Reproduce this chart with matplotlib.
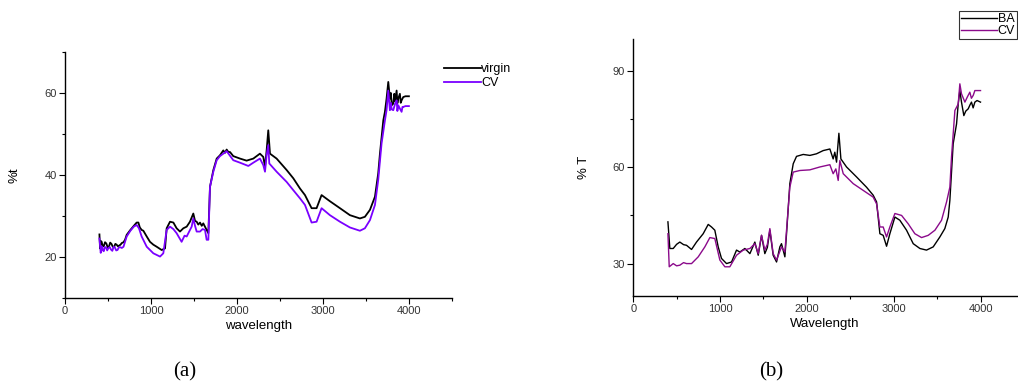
import numpy as np
import matplotlib.pyplot as plt
from matplotlib.ticker import MultipleLocator

plt.rcParams['font.family'] = ['Liberation Sans', 'DejaVu Sans']

# ---- panel (a) data ----
a_virgin_x = [400, 407, 416, 426, 438, 450, 465, 480, 495, 510, 525, 540, 555, 570, 585, 600,
              615, 630, 645, 660, 680, 698, 717, 760, 800, 833,
              853, 870, 891, 911, 950, 988, 1027, 1066, 1124, 1163, 1182, 1221, 1260, 1298,
              1337, 1376, 1415, 1453, 1492, 1512, 1531, 1550, 1570, 1590, 1608, 1647, 1667,
              1686, 1725, 1764, 1802, 1841, 1860, 1880, 1900, 1919, 1957, 2035, 2112, 2190,
              2267, 2306, 2326, 2345, 2364, 2384, 2461, 2578, 2655, 2733, 2791, 2868, 2926,
              2984, 3081, 3198, 3314, 3430, 3488, 3547, 3605, 3643, 3663, 3702, 3721, 3740,
              3760, 3779, 3790, 3800, 3818, 3830, 3840, 3857, 3866, 3876, 3895, 3905, 3915,
              3934, 3960, 4000]
a_virgin_y = [25.5, 22.1, 23.9, 23.7, 22.6, 22.6, 23.6, 23.3, 22.4, 22.5, 23.5, 23.2, 22.5,
              22.4, 23.2, 23.0, 22.6, 22.8, 23.0, 23.4, 23.6, 24.2, 25.4, 26.6,
              27.6, 28.4, 28.4, 27.2, 26.6, 26.4, 25.0, 23.7, 23.0, 22.5, 21.7, 22.1, 27.0,
              28.6, 28.4, 27.0, 26.2, 27.0, 27.4, 28.6, 30.6, 28.8, 28.6, 27.9, 28.4, 27.6,
              28.2, 26.6, 25.8, 37.1, 41.2, 44.0, 44.8, 46.0, 45.4, 46.2, 45.6, 45.6, 44.6,
              44.0, 43.5, 44.0, 45.2, 44.4, 42.0, 46.0, 50.9, 45.2, 44.0, 41.2, 39.2, 36.7,
              35.1, 31.9, 31.9, 35.1, 33.6, 31.9, 30.2, 29.4, 29.8, 31.5, 34.7, 40.4, 45.2,
              53.3, 55.4, 58.6, 62.7, 58.6, 60.0, 57.0, 57.4, 59.8, 58.0, 60.6, 57.5, 58.6,
              59.8, 57.6, 58.2, 59.0, 59.2, 59.2]

a_cv_x = [400, 415, 426, 438, 450, 460, 475, 490, 505, 520, 535, 550, 565, 580, 595, 610, 625,
          640, 660, 680, 717, 760, 800, 833, 860, 891,
          950, 1027, 1105, 1143, 1182, 1221, 1260, 1298, 1356, 1390, 1415, 1473, 1492, 1512,
          1531, 1570, 1600, 1628, 1647, 1667, 1686, 1725, 1764, 1802, 1841, 1880, 1957, 2035,
          2132, 2190, 2267, 2306, 2326, 2345, 2364, 2376, 2461, 2578, 2655, 2733, 2791, 2868,
          2926, 2984, 3081, 3198, 3314, 3430, 3488, 3547, 3605, 3643, 3682, 3721, 3740, 3760,
          3779, 3790, 3800, 3818, 3840, 3857, 3866, 3876, 3895, 3915, 3925, 3934, 3960, 4000]
a_cv_y = [24.5, 21.0, 22.6, 21.7, 21.4, 22.3, 22.4, 21.6, 22.2, 22.4, 21.8, 21.5, 22.5, 22.3,
          21.6, 21.7, 22.3, 22.4, 22.2, 22.5, 25.0, 26.4, 27.4,
          27.8, 27.0, 25.0, 22.5, 20.9, 20.1, 20.9, 26.6, 27.4, 26.8, 25.8, 23.7, 25.2, 25.0,
          27.4, 29.4, 27.6, 26.2, 26.2, 26.8, 26.6, 24.2, 24.2, 37.1, 40.8, 43.6, 44.6, 45.2,
          45.8, 43.6, 43.0, 42.2, 43.0, 44.0, 42.4, 40.8, 44.8, 47.3, 42.8, 40.8, 38.3, 36.3,
          34.3, 32.7, 28.4, 28.6, 31.9, 30.2, 28.6, 27.2, 26.4, 27.0, 29.0, 32.7, 38.8, 47.7,
          53.3, 55.8, 60.6, 55.8, 57.6, 56.0, 55.8, 57.4, 58.2, 55.6, 57.0, 56.2, 55.4, 56.6,
          56.6, 56.8, 56.8]

# ---- panel (b) data ----
b_ba_x = [400, 422, 461, 500, 537, 580, 614, 672, 729, 806, 864, 902, 940, 979, 1017, 1075,
          1133, 1190, 1228, 1286, 1344, 1401, 1440, 1478, 1516, 1545, 1574, 1612, 1651, 1689,
          1708, 1747, 1766, 1804, 1843, 1881, 1958, 2035, 2111, 2188, 2265, 2303, 2322, 2342,
          2369, 2392, 2457, 2572, 2687, 2764, 2803, 2841, 2879, 2918, 2956, 3014, 3071, 3148,
          3225, 3302, 3378, 3455, 3532, 3589, 3628, 3647, 3685, 3724, 3743, 3762, 3781, 3808,
          3830, 3858, 3880, 3896, 3915, 3935, 3960, 4000]
b_ba_y = [43.0, 34.7, 34.7, 36.0, 36.7, 35.9, 35.7, 34.4, 36.7, 39.3, 42.2, 41.4, 40.4, 35.2,
          31.6, 30.0, 30.5, 34.2, 33.6, 34.7, 33.1, 36.7, 32.6, 38.8, 33.1, 35.0, 40.4, 32.6,
          30.5, 35.2, 36.2, 32.1, 39.3, 54.9, 61.1, 63.4, 64.0, 63.7, 64.2, 65.2, 65.7, 62.6,
          64.7, 61.6, 70.6, 62.6, 60.1, 57.0, 53.8, 51.3, 49.2, 39.3, 38.8, 35.4, 39.3, 44.5,
          43.5, 40.4, 36.2, 34.7, 34.2, 35.2, 38.3, 40.9, 44.5, 49.7, 67.3, 73.5, 79.7, 83.9,
          80.3, 76.1, 77.5, 78.2, 79.5, 80.3, 78.5, 80.3, 80.8, 80.3]

b_cv_x = [400, 415, 461, 500, 537, 580, 614, 672, 749, 825, 883, 940, 998, 1056, 1113, 1190,
          1267, 1344, 1401, 1440, 1478, 1516, 1545, 1574, 1612, 1651, 1708, 1747, 1766, 1804,
          1843, 1920, 2035, 2150, 2265, 2303, 2334, 2361, 2380, 2419, 2534, 2649, 2764, 2803,
          2841, 2879, 2918, 2956, 3014, 3091, 3167, 3244, 3321, 3398, 3475, 3551, 3609, 3647,
          3666, 3705, 3743, 3762, 3781, 3820, 3850, 3877, 3895, 3916, 3935, 3954, 4000]
b_cv_y = [39.3, 29.0, 30.0, 29.3, 29.5, 30.3, 30.0, 30.0, 32.1, 35.2, 38.1, 37.8, 31.1, 29.0,
          29.0, 32.6, 34.2, 34.7, 36.2, 33.1, 38.8, 34.2, 36.0, 40.9, 33.1, 31.1, 35.2, 33.6,
          40.4, 53.8, 58.5, 59.0, 59.2, 60.1, 60.8, 58.0, 59.5, 55.9, 62.1, 58.0, 54.9, 52.8,
          50.7, 48.6, 41.4, 41.4, 38.3, 41.4, 45.6, 45.0, 42.4, 39.3, 38.1, 38.8, 40.4, 43.5,
          49.2, 53.8, 63.2, 77.7, 79.7, 86.0, 82.9, 80.3, 82.0, 83.4, 81.5, 82.4, 83.9, 83.9,
          83.9]

fig = plt.figure(figsize=(10.18, 3.85), dpi=100)

ax1 = fig.add_axes([0.0639, 0.226, 0.380, 0.639])
ax2 = fig.add_axes([0.622, 0.232, 0.377, 0.667])

ax1.plot(a_virgin_x, a_virgin_y, color='black', lw=1.3, label='virgin')
ax1.plot(a_cv_x, a_cv_y, color='#7a00ff', lw=1.3, label='CV')
ax1.set_xlim(0, 4500)
ax1.set_ylim(10, 70)
ax1.yaxis.set_major_locator(MultipleLocator(20))
ax1.yaxis.set_minor_locator(MultipleLocator(10))
ax1.set_xlabel('wavelength', fontsize=9.5, labelpad=3)
ax1.set_ylabel('%t', fontsize=9.5, labelpad=17)

ax2.plot(b_ba_x, b_ba_y, color='black', lw=1.0, label='BA')
ax2.plot(b_cv_x, b_cv_y, color='#8b0a8b', lw=1.0, label='CV')
ax2.set_xlim(0, 4420)
ax2.set_ylim(20, 100)
ax2.yaxis.set_major_locator(MultipleLocator(30))
ax2.yaxis.set_minor_locator(MultipleLocator(15))
ax2.set_xlabel('Wavelength', fontsize=9.5, labelpad=3)
ax2.set_ylabel('% T', fontsize=9.5, labelpad=16)

for ax in (ax1, ax2):
    ax.xaxis.set_major_locator(MultipleLocator(1000))
    ax.xaxis.set_minor_locator(MultipleLocator(500))
    for s in ('top', 'right'):
        ax.spines[s].set_visible(False)
    ax.spines['left'].set_linewidth(1.0)
    ax.spines['bottom'].set_linewidth(1.0)
    ax.tick_params(which='major', direction='out', length=4, width=0.8, labelsize=8, pad=2,
                   labelcolor='#333333')
    ax.tick_params(which='minor', direction='out', length=2, width=0.8)

h, l = ax1.get_legend_handles_labels()
fig.legend(h, l, loc='upper left', bbox_to_anchor=(438 / 1018, 1 - 57 / 385),
           frameon=False, fontsize=9, handlelength=2.9, handletextpad=0.05,
           borderpad=0, labelspacing=0.15)

h, l = ax2.get_legend_handles_labels()
leg = fig.legend(h, l, loc='upper right', bbox_to_anchor=(1017 / 1018, 1 - 11 / 385),
                 frameon=True, fancybox=False, fontsize=9, handlelength=2.9,
                 handletextpad=0.05, borderpad=0.15, labelspacing=0.05, borderaxespad=0)
leg.get_frame().set_edgecolor('black')
leg.get_frame().set_linewidth(0.8)

fig.text(185 / 1018, 1 - 372 / 385, '(a)', ha='center', va='center',
         family='Liberation Serif', fontsize=15)
fig.text(771 / 1018, 1 - 372 / 385, '(b)', ha='center', va='center',
         family='Liberation Serif', fontsize=15)

fig.savefig('out.png', dpi=100)
